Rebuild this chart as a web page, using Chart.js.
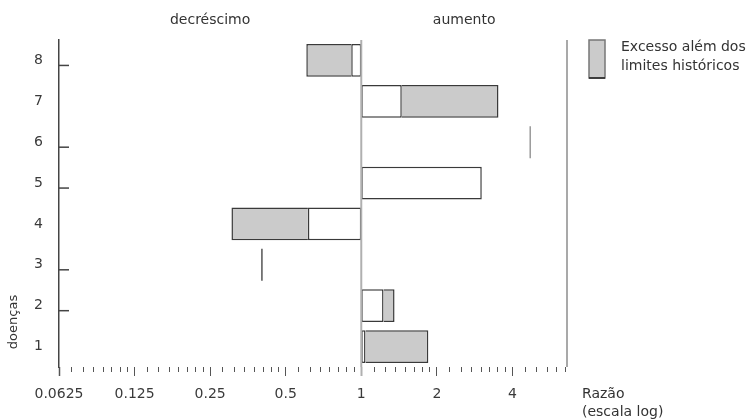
<!DOCTYPE html>
<html lang="pt">
<head>
<meta charset="utf-8">
<title>Razão por doença</title>
<script src="https://cdn.jsdelivr.net/npm/chart.js@4.4.1/dist/chart.umd.min.js"></script>
<style>
    html, body { margin: 0; padding: 0; background: #fff; }
    #wrap { position: relative; width: 751px; height: 420px; }
</style>
</head>
<body>
<div id="wrap"><canvas id="graficoRazao"></canvas></div>
<script>
// dados (razão, escala log)
const categorias = ['8', '7', '6', '5', '4', '3', '2', '1'];
const limiteHistorico = [[0.912, 1], [1, 1.45], null, [1, 3.02], [0.613, 1], null, [1, 1.227], [1, 1.04]];
const excessoHistorico = [[0.604, 0.912], [1.45, 3.52], null, null, [0.304, 0.613], null, [1.227, 1.357], [1.04, 1.85]];
const marcadorCategorias = ['6', '3'];
const marcadorValores = [4.71, 0.402];
const ticksPrincipais = [0.0625, 0.125, 0.25, 0.5, 1, 2, 4];
const rotulosTicks = ['0.0625', '0.125', '0.25', '0.5', '1', '2', '4'];
const categoriasComTick = ['8', '6', '5', '3', '2'];
const xMin = 0.0625;
const xMax = 6.6;

// marcas menores: 7 divisões lineares dentro de cada oitava
const ticksMenores = [];
ticksPrincipais.forEach(v => {
    for (let k = 1; k < 8; k++) {
        const t = v * (1 + k / 8);
        if (t < xMax) ticksMenores.push(t);
    }
});

Chart.defaults.font.family = "'DejaVu Sans', sans-serif";
Chart.defaults.font.size = 14;
Chart.defaults.color = '#3a3a3a';

function linha(ctx, x1, y1, x2, y2) {
    ctx.beginPath();
    ctx.moveTo(x1, y1);
    ctx.lineTo(x2, y2);
    ctx.stroke();
}

const desenhoExtra = {
    id: 'desenhoExtra',
    afterDatasetsDraw(chart) {
        const { ctx, chartArea: area, scales: { x, y } } = chart;
        const xUm = x.getPixelForValue(1);
        ctx.save();

        // linha de referência em 1
        ctx.strokeStyle = '#b0b0b0';
        ctx.lineWidth = 2;
        linha(ctx, xUm, area.top, xUm, area.bottom);

        // linha à direita
        ctx.strokeStyle = '#8c8c8c';
        ctx.lineWidth = 1.5;
        linha(ctx, area.right, area.top, area.right, area.bottom);

        // marcas do eixo y, para dentro
        ctx.strokeStyle = '#444';
        ctx.lineWidth = 1.5;
        categoriasComTick.forEach(c => {
            const py = y.getPixelForValue(categorias.indexOf(c)) + 5;
            linha(ctx, area.left, py, area.left + 10, py);
        });

        ctx.fillStyle = '#333';
        ctx.font = "14px 'DejaVu Sans'";
        ctx.textAlign = 'center';
        ctx.textBaseline = 'middle';
        ctx.fillText('decréscimo', (area.left + xUm) / 2, 20);
        ctx.fillText('aumento', (xUm + area.right) / 2, 20);

        // legenda
        const lx = area.right + 22;
        ctx.fillStyle = '#cbcbcb';
        ctx.fillRect(lx, area.top, 16, 38);
        ctx.strokeStyle = '#777';
        ctx.lineWidth = 1.5;
        ctx.strokeRect(lx, area.top, 16, 38);
        ctx.strokeStyle = '#222';
        linha(ctx, lx, area.top + 38, lx + 16, area.top + 38);
        ctx.fillStyle = '#333';
        ctx.textAlign = 'left';
        ctx.fillText('Excesso além dos', lx + 32, area.top + 7);
        ctx.fillText('limites históricos', lx + 32, area.top + 26);

        // título do eixo x
        ctx.fillText('Razão', area.right + 15, 394);
        ctx.fillText('(escala log)', area.right + 15, 412);

        // título do eixo y
        ctx.font = "13px 'DejaVu Sans'";
        ctx.translate(14, 322);
        ctx.rotate(-Math.PI / 2);
        ctx.textAlign = 'center';
        ctx.fillText('doenças', 0, 0);

        ctx.restore();
    }
};

// o segmento cinza não repete a borda do lado que encosta no branco
function bordaExcesso(c) {
    const v = c.raw;
    if (!v) return 1.5;
    return {
        top: 1.5,
        bottom: 1.5,
        left: v[0] > 1 ? 0 : 1.5,
        right: v[1] < 1 ? 0 : 1.5
    };
}

const estiloBarra = {
    grouped: false,
    barPercentage: 0.8,
    categoryPercentage: 1,
    borderColor: '#3a3a3a',
    borderSkipped: false
};

new Chart(document.getElementById('graficoRazao'), {
    type: 'bar',
    data: {
        labels: categorias,
        datasets: [
            Object.assign({
                label: 'Limites históricos',
                data: limiteHistorico,
                backgroundColor: '#ffffff',
                borderWidth: 1.5
            }, estiloBarra),
            Object.assign({
                label: 'Excesso além dos limites históricos',
                data: excessoHistorico,
                backgroundColor: '#cbcbcb',
                borderWidth: bordaExcesso
            }, estiloBarra),
            {
                type: 'line',
                label: 'Marcadores',
                data: marcadorCategorias.map((c, i) => ({ x: marcadorValores[i], y: c })),
                showLine: false,
                pointStyle: 'line',
                pointRadius: 16,
                pointHoverRadius: 16,
                pointRotation: 90,
                pointBorderColor: ['#9a9a9a', '#555555'],
                pointBorderWidth: 1.5
            }
        ]
    },
    options: {
        indexAxis: 'y',
        responsive: true,
        maintainAspectRatio: false,
        animation: false,
        layout: {
            padding: { top: 40, right: 184, bottom: 0, left: 0 }
        },
        plugins: {
            legend: { display: false },
            tooltip: { enabled: false }
        },
        scales: {
            x: {
                type: 'logarithmic',
                min: xMin,
                max: xMax,
                afterBuildTicks: (scale) => {
                    scale.ticks = ticksPrincipais.concat(ticksMenores)
                        .sort((a, b) => a - b)
                        .map(v => ({ value: v, major: ticksPrincipais.includes(v) }));
                },
                afterFit: (scale) => { scale.height = 53; },
                border: { display: false },
                grid: {
                    drawOnChartArea: false,
                    drawTicks: true,
                    tickLength: 9,
                    tickColor: (c) => c.tick && c.tick.value === 1 ? '#b0b0b0' : '#555',
                    tickWidth: (c) => {
                        if (!c.tick) return 1;
                        if (c.tick.value === 1) return 2;
                        return c.tick.value === xMin ? 1.5 : 1;
                    },
                    tickBorderDash: (c) => c.tick && ticksPrincipais.includes(c.tick.value) ? [] : [5, 20]
                },
                ticks: {
                    autoSkip: false,
                    maxRotation: 0,
                    minRotation: 0,
                    padding: 10,
                    callback: (value) => {
                        const i = ticksPrincipais.indexOf(value);
                        return i >= 0 ? rotulosTicks[i] : '';
                    }
                }
            },
            y: {
                afterFit: (scale) => { scale.width = 59; },
                border: { display: true, color: '#444', width: 1.5 },
                grid: { drawOnChartArea: false, drawTicks: false },
                ticks: { padding: 16 }
            }
        }
    },
    plugins: [desenhoExtra]
});
</script>
</body>
</html>
